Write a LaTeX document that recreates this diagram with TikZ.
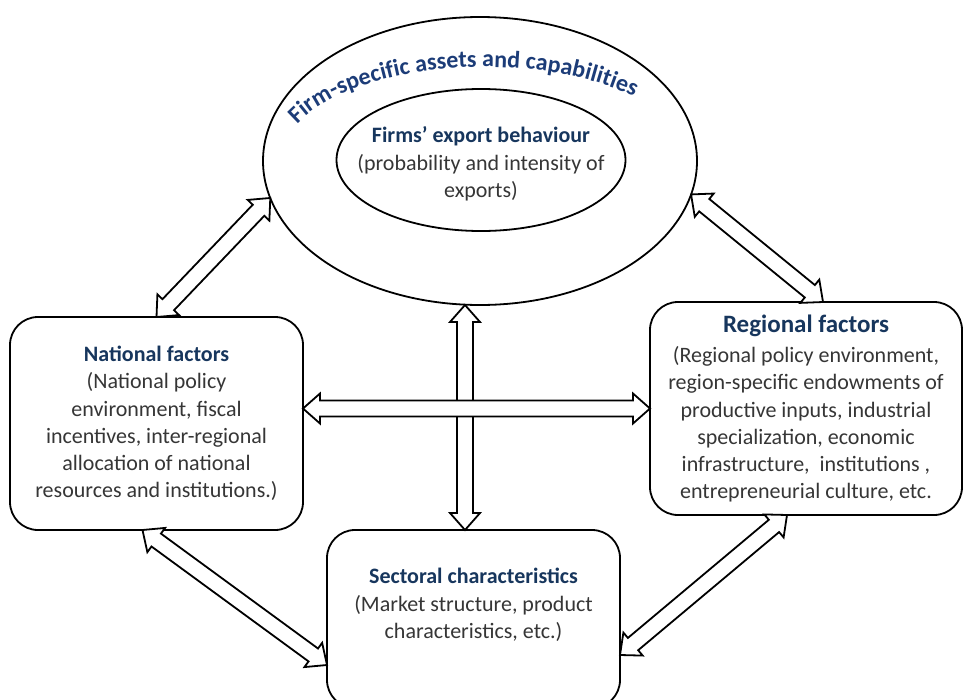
\documentclass[tikz,border=0pt]{standalone}
\usepackage{fontspec}
\setmainfont{Carlito}
\usetikzlibrary{positioning,calc,shapes,decorations.text}

\definecolor{titleblue}{HTML}{17365D}
\definecolor{arcblue}{HTML}{1C3C78}
\definecolor{bodygray}{HTML}{363636}

\def\headlen{17pt}
\def\headhw{15pt}
\def\shafthw{8pt}

% hollow block arrow with a head at both ends
\newcommand{\twoway}[2]{%
  \draw[blockarrow] (#1)
    -- ($(#1)!\headlen!(#2)!\headhw!90:(#2)$)
    -- ($(#1)!\headlen!(#2)!\shafthw!90:(#2)$)
    -- ($(#2)!\headlen!(#1)!\shafthw!-90:(#1)$)
    -- ($(#2)!\headlen!(#1)!\headhw!-90:(#1)$)
    -- (#2)
    -- ($(#2)!\headlen!(#1)!\headhw!90:(#1)$)
    -- ($(#2)!\headlen!(#1)!\shafthw!90:(#1)$)
    -- ($(#1)!\headlen!(#2)!\shafthw!-90:(#2)$)
    -- ($(#1)!\headlen!(#2)!\headhw!-90:(#2)$)
    -- cycle;}

\newcommand{\heading}[1]{{\color{titleblue}\bfseries #1}}

\begin{document}
\begin{tikzpicture}[x=1pt,y=1pt]
    \tikzstyle{every node}=[inner sep=0,outer sep=0]
    \tikzstyle{outline}=[draw=black,line width=1.8]
    \tikzstyle{factorbox}=[outline,rectangle,rounded corners=28,fill=white]
    \tikzstyle{boxtext}=[align=center,text=bodygray,font=\fontsize{22}{27.3}\selectfont]
    \tikzstyle{blockarrow}=[outline,fill=white,line join=miter]
    \tikzstyle{arctext}=[decorate,decoration={text along path,text align=left,text color=arcblue,
        text={|\fontsize{24}{24}\selectfont\bfseries|Firm-specific assets and capabilities}}]

    \useasboundingbox (0,0) rectangle (964,-699);

    % firm level
    \node[outline,ellipse,minimum width=434,minimum height=288] (firm) at (480,-161) {};
    \node[outline,ellipse,minimum width=289,minimum height=142] (export) at (481,-160) {};
    \node[boxtext] (exporttxt) at (481,-164)
        {\heading{Firms’ export behaviour}\\(probability and intensity of\\exports)};

    \path[arctext] ([xshift=5]firm.center) ++(157:204 and 94)
        arc[start angle=157,end angle=10,x radius=204,y radius=94];

    % the three surrounding levels
    \node[factorbox,boxtext,minimum width=293,minimum height=213] (nat) at (156.5,-423.5)
        {\heading{National factors}\\(National policy\\environment, fiscal\\incentives, inter-regional\\
         allocation of national\\resources and institutions.)};
    \node[factorbox,boxtext,minimum width=312,minimum height=213] (reg) at (806,-408.5)
        {\heading{\fontsize{25}{27.3}\selectfont Regional factors}\\[3pt](Regional policy environment,\\
         region-specific endowments of\\productive inputs, industrial\\specialization, economic\\
         infrastructure,\ \ institutions ,\\entrepreneurial culture, etc.};
    \node[factorbox,minimum width=293,minimum height=178] (sec) at (473.5,-619) {};
    \node[boxtext] (sectxt) at ($(sec.north)+(0,-75)$)
        {\heading{Sectoral characteristics}\\(Market structure, product\\characteristics, etc.)};

    % arrow ends
    \coordinate (nwA) at (nat.north);
    \coordinate (nwB) at (firm.190);
    \coordinate (neA) at (firm.-9);
    \coordinate (neB) at ([xshift=17]reg.north);
    \coordinate (swA) at ([xshift=-14]nat.south);
    \coordinate (swB) at ([yshift=-46]sec.west);
    \coordinate (seA) at ([yshift=-36]sec.east);
    \coordinate (seB) at ([xshift=-19]reg.south);
    \coordinate (vA) at ([xshift=-15]firm.south);
    \coordinate (vB) at (vA |- sec.north);
    \coordinate (hB) at (reg.west);
    \coordinate (hA) at (hB -| nat.east);

    \twoway{nwA}{nwB}
    \twoway{neA}{neB}
    \twoway{swA}{swB}
    \twoway{seA}{seB}
    \twoway{vA}{vB}
    \twoway{hA}{hB}
\end{tikzpicture}
\end{document}
